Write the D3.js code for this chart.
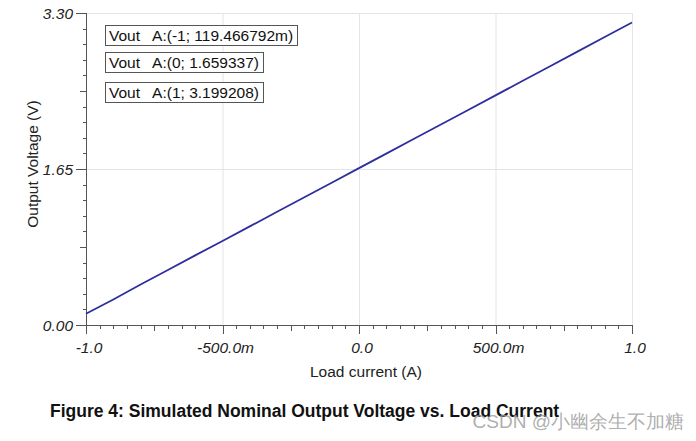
<!DOCTYPE html>
<html><head><meta charset="utf-8">
<script src="https://cdn.jsdelivr.net/npm/d3@7"></script>
<style>body{margin:0;background:#fff}svg{display:block}text{font-family:"Liberation Sans",Arial,sans-serif}</style>
</head><body><div id="chart"></div>
<script>
const loadCurrent = [-1.0,-0.9,-0.8,-0.7,-0.6,-0.5,-0.4,-0.3,-0.2,-0.1,0.0,0.1,0.2,0.3,0.4,0.5,0.6,0.7,0.8,0.9,1.0];
const vout = [0.119,0.270,0.428,0.581,0.736,0.889,1.043,1.197,1.352,1.505,1.659,1.813,1.967,2.120,2.274,2.429,2.583,2.737,2.891,3.046,3.199];
const xTickValues = [-1.0,-0.5,0.0,0.5,1.0];
const xTickLabels = ["-1.0","-500.0m","0.0","500.0m","1.0"];
const yTickValues = [0.0,1.65,3.30];
const yTickLabels = ["0.00","1.65","3.30"];
const markers = ["Vout   A:(-1; 119.466792m)","Vout   A:(0; 1.659337)","Vout   A:(1; 3.199208)"];
const xTitle = "Load current (A)";
const yTitle = "Output Voltage (V)";
const caption = "Figure 4: Simulated Nominal Output Voltage vs. Load Current";
const watermark = "CSDN @小幽余生不加糖";

const W=696,H=441;
const svg=d3.select("#chart").append("svg").attr("width",W).attr("height",H);
const x=d3.scaleLinear().domain([-1,1]).range([86,632]);
const y=d3.scaleLinear().domain([0,3.3]).range([325,13]);

// grid
const grid=svg.append("g").attr("stroke","#e4e4e4").attr("stroke-width",1);
[-0.5,0,0.5,1].forEach(v=>grid.append("line").attr("x1",x(v)+0.5).attr("x2",x(v)+0.5).attr("y1",y(3.3)).attr("y2",y(0)));
[1.65,3.3].forEach(v=>grid.append("line").attr("x1",x(-1)).attr("x2",x(1)+0.5).attr("y1",y(v)+0.5).attr("y2",y(v)+0.5));

// x ticks
const xMinor=d3.range(0,41).map(i=>-1+i*0.05);
const xa=svg.append("g").attr("stroke","#555").attr("stroke-width",1);
xMinor.forEach(v=>{
  const r=Math.round(v*100);
  const len = (r%50===0)?9:(r%25===0)?6:4;
  xa.append("line").attr("x1",Math.round(x(v))+0.5).attr("x2",Math.round(x(v))+0.5).attr("y1",y(0)).attr("y2",y(0)+len);
});
const yMinor=d3.range(0,21).map(i=>i*0.165);
yMinor.forEach((v,i)=>{
  const len=(i%10===0)?10:(i%5===0)?6:3;
  xa.append("line").attr("x1",x(-1)-len).attr("x2",x(-1)).attr("y1",Math.round(y(v))+0.5).attr("y2",Math.round(y(v))+0.5);
});
xa.append("line").attr("x1",x(-1)+0.5).attr("x2",x(-1)+0.5).attr("y1",y(3.3)).attr("y2",y(0)+0.5);
xa.append("line").attr("x1",x(-1)).attr("x2",x(1)+1).attr("y1",y(0)+0.5).attr("y2",y(0)+0.5);

// tick labels
xTickValues.forEach((v,i)=>svg.append("text").attr("x",x(v)+3).attr("y",353).attr("text-anchor","middle")
  .attr("font-size","15.5px").attr("font-style","italic").attr("fill","#222").text(xTickLabels[i]));
yTickValues.forEach((v,i)=>svg.append("text").attr("x",73).attr("y",y(v)+5.5).attr("text-anchor","end")
  .attr("font-size","15.5px").attr("font-style","italic").attr("fill","#222").text(yTickLabels[i]));

// titles
svg.append("text").attr("x",366).attr("y",377).attr("text-anchor","middle").attr("font-size","15.5px").attr("fill","#222").text(xTitle);
svg.append("text").attr("transform","translate(38,164) rotate(-90)").attr("text-anchor","middle").attr("font-size","15.5px").attr("fill","#222").text(yTitle);

// line
svg.append("path").datum(loadCurrent.map((c,i)=>[c,vout[i]]))
  .attr("fill","none").attr("stroke","#2e2e9e").attr("stroke-width",1.8)
  .attr("d",d3.line().x(d=>x(d[0])).y(d=>y(d[1])));

// marker boxes
const boxTops=[25,52,82];
markers.forEach((m,i)=>{
  const g=svg.append("g");
  const t=g.append("text").attr("x",109).attr("y",boxTops[i]+15.5).attr("font-size","15.5px").attr("fill","#111")
    .style("white-space","pre").text(m);
  const w=t.node().getComputedTextLength();
  g.insert("rect","text").attr("x",105.5).attr("y",boxTops[i]+0.5).attr("width",Math.round(w)+8).attr("height",20)
    .attr("fill","#fff").attr("stroke","#555").attr("stroke-width",1);
});

// caption
svg.append("text").attr("x",50).attr("y",417).attr("font-size","17.5px").attr("font-weight","bold").attr("fill","#111").text(caption);
// watermark
svg.append("text").attr("x",684).attr("y",428).attr("text-anchor","end").attr("font-size","19px")
  .attr("font-family","'Noto Sans CJK SC',sans-serif").attr("fill","#999").attr("fill-opacity",0.8).text(watermark);
</script></body></html>
